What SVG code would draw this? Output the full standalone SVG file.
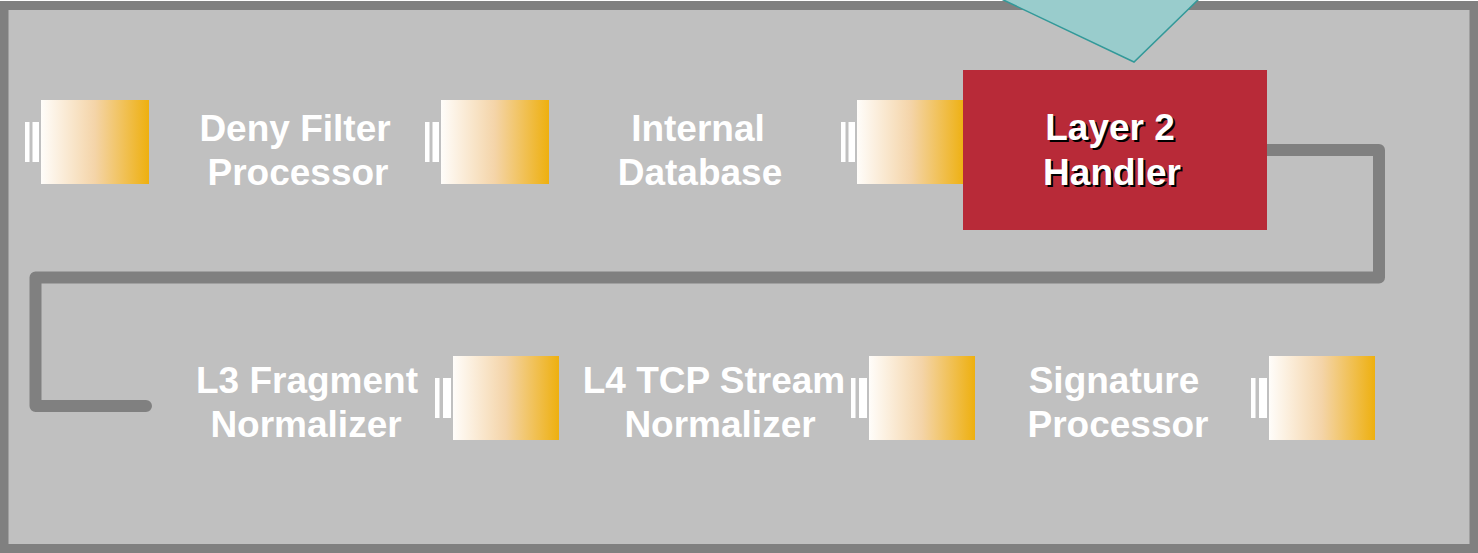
<svg xmlns="http://www.w3.org/2000/svg" width="1478" height="553" viewBox="0 0 1478 553">
<defs>
<linearGradient id="bat" x1="0" y1="0" x2="1" y2="0">
<stop offset="0" stop-color="#fffdfa"/>
<stop offset="0.5" stop-color="#f4d4a8"/>
<stop offset="1" stop-color="#eeb00f"/>
</linearGradient>
<g id="icon">
<rect x="-16" y="22" width="4.5" height="40" fill="#ffffff"/>
<rect x="-8.5" y="22" width="6.5" height="40" fill="#ffffff"/>
<rect x="0" y="0" width="108" height="84" fill="url(#bat)"/>
</g>
<g id="icon2">
<rect x="-18" y="22" width="4.5" height="40" fill="#ffffff"/>
<rect x="-10" y="22" width="8" height="40" fill="#ffffff"/>
<rect x="0" y="0" width="106" height="84" fill="url(#bat)"/>
</g>
</defs>
<style>
.lbl{font-family:"Liberation Sans",Arial,sans-serif;font-weight:bold;font-size:37px;fill:#ffffff;text-anchor:middle}
.shadow{font-family:"Liberation Sans",Arial,sans-serif;font-weight:bold;font-size:37px;fill:#000000;text-anchor:middle}
.conn{fill:none;stroke:#808080;stroke-width:12;stroke-linecap:round;stroke-linejoin:round}
</style>
<rect x="4" y="5.5" width="1470" height="543" fill="#c0c0c0" stroke="#808080" stroke-width="9"/>
<polygon points="995,-4 1134,62 1202,-4" fill="#99cccc" stroke="#339999" stroke-width="1.5"/>
<g id="connectors">
<path class="conn" d="M1267,150 H1379 V277.5 H35.5 V406 H146"/>
</g>
<g id="deny-filter">
<use href="#icon" x="41" y="100"/>
<text class="lbl" x="295" y="140.5">Deny Filter</text>
<text class="lbl" x="298" y="185">Processor</text>
</g>
<g id="internal-db">
<use href="#icon" x="441" y="100"/>
<text class="lbl" x="698" y="140.5">Internal</text>
<text class="lbl" x="700" y="185">Database</text>
</g>
<g id="layer2">
<use href="#icon" x="857" y="100"/>
<rect x="963" y="70" width="304" height="160" fill="#b82a38"/>
<text class="shadow" x="1112" y="142">Layer 2</text>
<text class="shadow" x="1114" y="187">Handler</text>
<text class="lbl" x="1110" y="140">Layer 2</text>
<text class="lbl" x="1112" y="185">Handler</text>
</g>
<g id="l3-frag">
<text class="lbl" x="307" y="393">L3 Fragment</text>
<text class="lbl" x="306" y="437">Normalizer</text>
<use href="#icon2" x="453" y="356"/>
</g>
<g id="l4-tcp">
<text class="lbl" x="714" y="393">L4 TCP Stream</text>
<text class="lbl" x="720" y="437">Normalizer</text>
<use href="#icon2" x="869" y="356"/>
</g>
<g id="signature">
<text class="lbl" x="1114" y="393">Signature</text>
<text class="lbl" x="1118" y="437">Processor</text>
<use href="#icon2" x="1269" y="356"/>
</g>
</svg>
